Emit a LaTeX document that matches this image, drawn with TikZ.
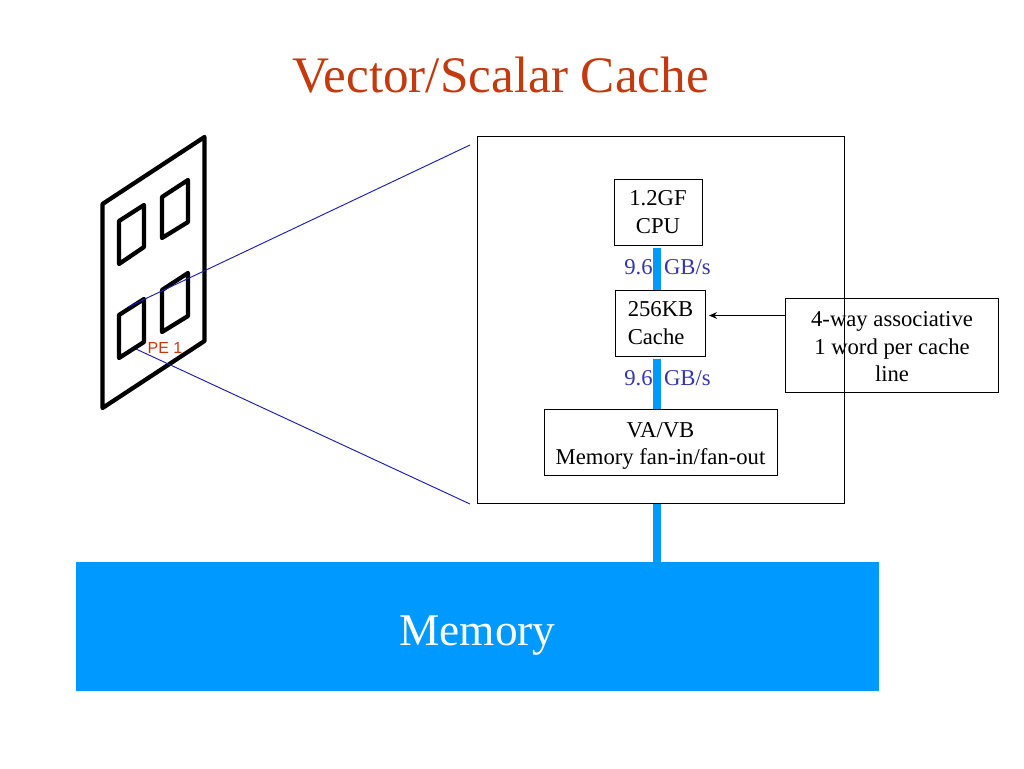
\documentclass[tikz,border=0pt]{standalone}
\usepackage{fontspec}
\setmainfont{Liberation Serif}
\newfontfamily\pefont{Liberation Sans}
\usetikzlibrary{arrows.meta, positioning}
\definecolor{titlered}{HTML}{C23A0E}
\definecolor{busblue}{HTML}{0099FF}
\definecolor{ratetext}{HTML}{3535AD}
\definecolor{linkblue}{HTML}{1A1AB0}
\tikzset{
    unit/.style = {draw, line width=.75pt, inner sep=0pt, align=center,
        font=\fontsize{17}{20.6}\selectfont},
    rate/.style = {text=ratetext, inner sep=0pt, font=\fontsize{17}{20.6}\selectfont},
    bus/.style = {draw=busblue, line width=6pt},
    chip/.style = {line width=3.2pt, line join=round, draw=black},
    link/.style = {draw=linkblue, line width=.7pt}
}

\begin{document}
\begin{tikzpicture}[x=.75pt, y=-.75pt]
        \useasboundingbox (0,0) rectangle (1024,768);

        \node (title) [text=titlered, font=\fontsize{38.4}{46}\selectfont] at (500.5,75) {Vector/Scalar Cache};

        % board with the four PEs
        \draw [chip] (102.5,204) -- (204.5,137) -- (204.5,341) -- (102.5,408) -- cycle;
        \draw [chip] (119,221) -- (144,205) -- (144,247) -- (119,264) -- cycle;
        \draw [chip] (162,197) -- (188,180) -- (188,222) -- (162,238) -- cycle;
        \draw [chip] (119,315) -- (144,299) -- (144,342) -- (119,358) -- cycle;
        \draw [chip] (162,290) -- (188,273) -- (188,316) -- (162,332) -- cycle;
        \node (pe1) [text=titlered, inner sep=0pt, font=\pefont\fontsize{12}{14}\selectfont] at (165,348) {PE 1};

        \coordinate (zoomA) at (128,307);
        \coordinate (zoomB) at (136,349);
        \coordinate (zoomC) at (470,145);
        \coordinate (zoomD) at (470,504);
        \path [link] (zoomA) edge (zoomC);
        \path [link] (zoomB) edge (zoomD);

        \node (pe) [unit, minimum width=275.25pt, minimum height=275.25pt] at (661,319.5) {};
        \node (cpu) [unit, minimum width=66pt, minimum height=49.5pt] at (658,212) {1.2GF\\CPU};
        \node (cache) [unit, align=left, minimum width=67.5pt, minimum height=49.5pt] at (660.5,323) {256KB\\Cache};
        \node (fan) [unit, minimum width=174.75pt, minimum height=49.5pt] at (660.5,442) {\rule{0pt}{17.5pt}VA/VB\\Memory fan-in/fan-out};
        \node (assoc) [unit, minimum width=159.75pt, minimum height=70.5pt] at (892,345) {\rule{0pt}{14pt}4-way associative\\1 word per cache\\line};
        \node (memory) [fill=busblue, inner sep=0pt, minimum width=602.25pt, minimum height=96.75pt] at (477.5,626.5) {};
        \node (memlabel) [text=white, font=\fontsize{34}{40}\selectfont] at (477.5,636) {Memory};

        \node (rateA) [rate] at (667.5,267) {9.6\hspace{.5em}GB/s};
        \node (rateB) [rate] at (667.5,378) {9.6\hspace{.5em}GB/s};

        \path [bus] (cpu.south -| 657,0) ++(0,2) edge (657,290);
        \path [bus] (cache.south -| 657,0) ++(0,2) edge (657,409);
        \path [bus] (pe.south -| 657,0) edge (657,562);

        \path [-{Stealth[length=6pt, width=5pt]}, line width=.75pt] (assoc.west |- 0,315.5) edge (709,315.5);
    \end{tikzpicture}
\end{document}
